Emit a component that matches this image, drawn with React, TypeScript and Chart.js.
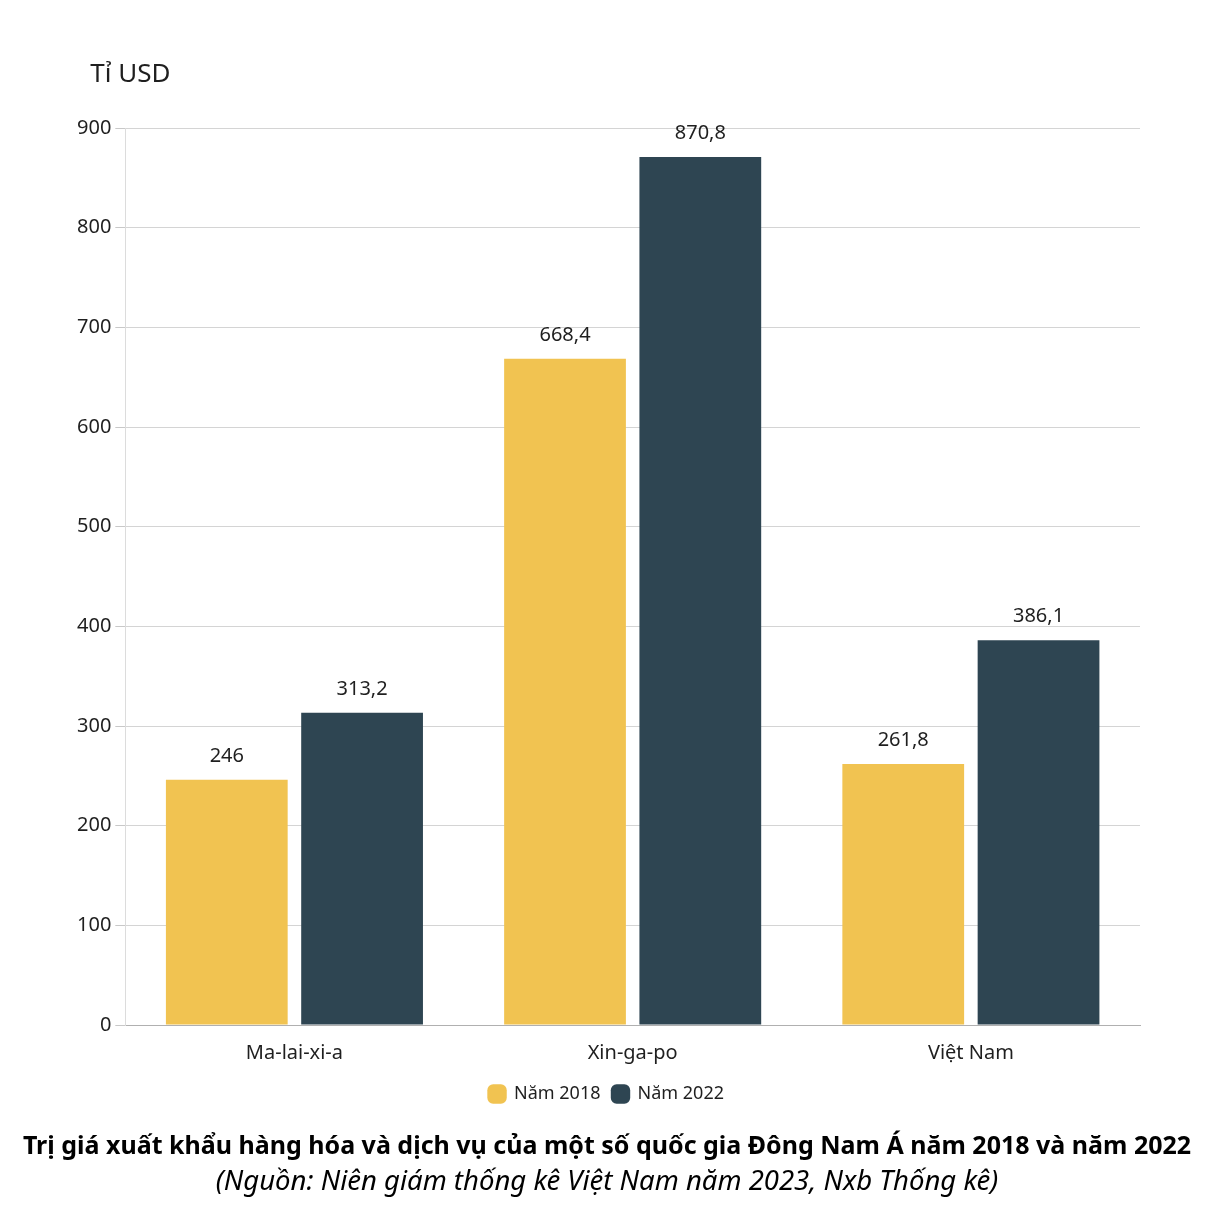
import React, { useEffect, useRef } from "react";
import { Chart, registerables } from "chart.js";

Chart.register(...registerables);

const countries = ["Ma-lai-xi-a", "Xin-ga-po", "Việt Nam"];
const exports2018 = [246, 668.4, 261.8];
const exports2022 = [313.2, 870.8, 386.1];
const seriesNames = ["Năm 2018", "Năm 2022"];
const yTicks = [0, 100, 200, 300, 400, 500, 600, 700, 800, 900];
const titleText = "Trị giá xuất khẩu hàng hóa và dịch vụ của một số quốc gia Đông Nam Á năm 2018 và năm 2022";
const sourceText = "(Nguồn: Niên giám thống kê Việt Nam năm 2023, Nxb Thống kê)";

const FONT = "'Noto Sans', 'Open Sans', sans-serif";
const TEXT = "#1f1f1f";

const fmt = (v: number) => v.toLocaleString("vi-VN", { maximumFractionDigits: 1 });

const valueLabels = {
  id: "valueLabels",
  afterDatasetsDraw(chart: any) {
    const ctx = chart.ctx;
    ctx.save();
    ctx.font = `20px ${FONT}`;
    ctx.fillStyle = TEXT;
    ctx.textAlign = "center";
    ctx.textBaseline = "middle";
    chart.data.datasets.forEach((ds: any, i: number) => {
      const meta = chart.getDatasetMeta(i);
      meta.data.forEach((bar: any, j: number) => {
        ctx.fillText(fmt(ds.data[j]), bar.x, bar.y - 24);
      });
    });
    ctx.restore();
  },
};

// Unit caption above the value axis, plus the caption block under the legend
const captions = {
  id: "captions",
  afterDraw(chart: any) {
    const ctx = chart.ctx;
    const { left, top } = chart.chartArea;
    const cx = chart.width / 2;
    ctx.save();
    ctx.textBaseline = "middle";
    ctx.fillStyle = TEXT;
    ctx.textAlign = "left";
    ctx.font = `26px ${FONT}`;
    ctx.fillText("Tỉ USD", left - 35, top - 53);

    ctx.fillStyle = "#000";
    ctx.textAlign = "center";
    ctx.font = `bold 25px ${FONT}`;
    ctx.fillText(titleText, cx, chart.height - 85);
    ctx.font = `italic 27.5px ${FONT}`;
    ctx.fillText(sourceText, cx, chart.height - 50);
    ctx.restore();
  },
};

export default function App() {
  const ref = useRef<HTMLCanvasElement>(null);

  useEffect(() => {
    if (!ref.current) return;
    const chart = new Chart(ref.current, {
      type: "bar",
      data: {
        labels: countries,
        datasets: [
          { label: seriesNames[0], data: exports2018, backgroundColor: "#F1C351" },
          { label: seriesNames[1], data: exports2022, backgroundColor: "#2E4552" },
        ],
      },
      options: {
        responsive: false,
        animation: false,
        layout: { padding: { top: 128, right: 74, left: 73, bottom: 119 } },
        scales: {
          x: {
            grid: { display: false },
            border: { color: "#b0b0b0" },
            ticks: { color: TEXT, font: { family: FONT, size: 20 }, padding: 8 },
          },
          y: {
            min: 0,
            max: 900,
            afterBuildTicks: (axis: any) => {
              axis.ticks = yTicks.map((v) => ({ value: v }));
            },
            grid: { color: "#d4d4d4", tickLength: 10, tickColor: "#c8c8c8" },
            border: { color: "#dcdcdc" },
            ticks: { color: TEXT, font: { family: FONT, size: 20 }, padding: 4 },
          },
        },
        plugins: {
          legend: {
            position: "bottom",
            labels: {
              usePointStyle: true,
              pointStyle: "rectRounded",
              boxWidth: 16,
              boxHeight: 16,
              color: TEXT,
              font: { family: FONT, size: 18 },
              padding: 12,
            },
          },
          title: { display: false },
          tooltip: { enabled: false },
        },
      } as any,
      plugins: [valueLabels, captions],
    });
    return () => chart.destroy();
  }, []);

  return (
    <div style={{ position: "absolute", left: 0, top: 0, width: 1214, height: 1232, background: "#fff" }}>
      <canvas ref={ref} width={1214} height={1232} />
    </div>
  );
}
